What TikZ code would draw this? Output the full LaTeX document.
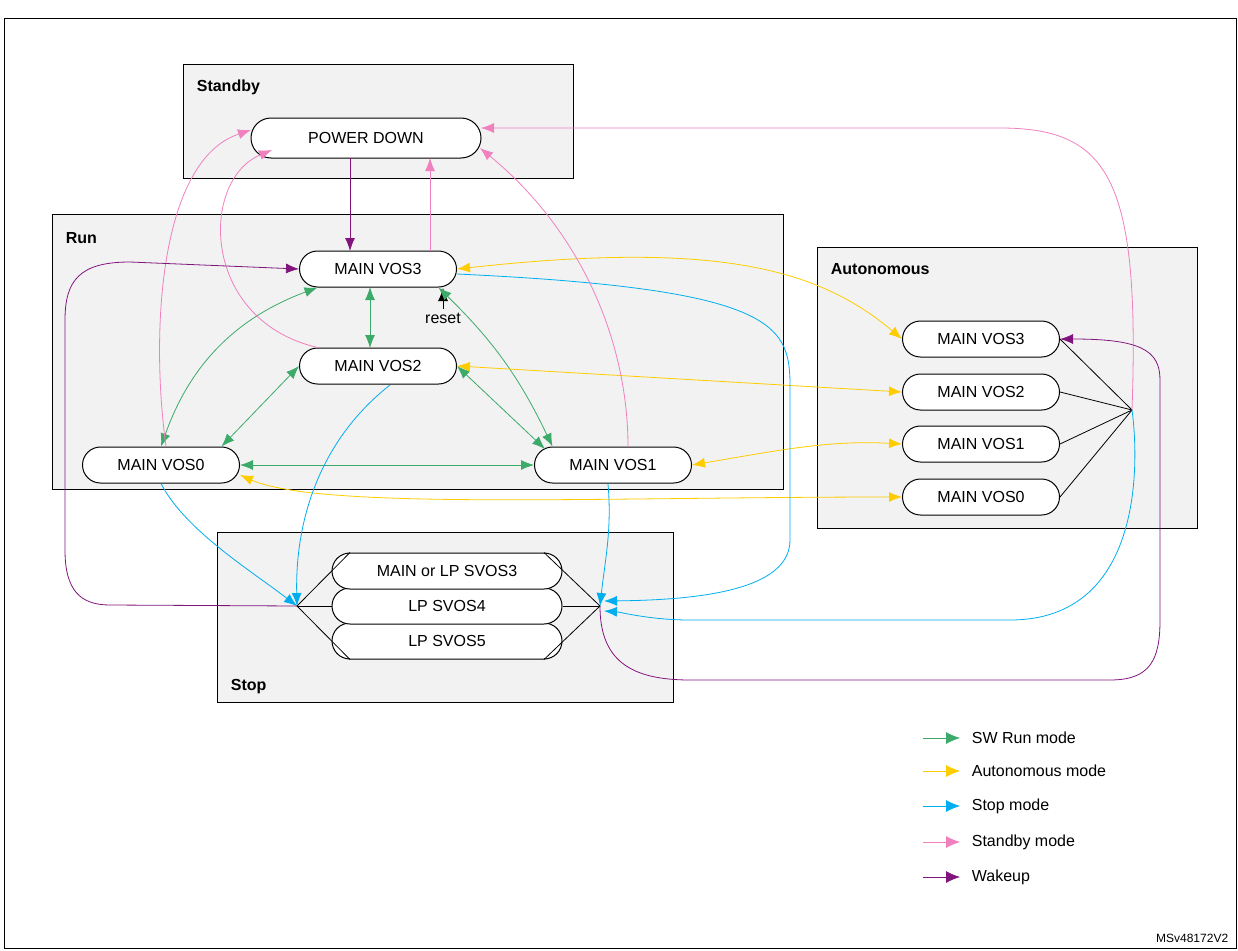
\documentclass[tikz,border=0pt]{standalone}
\usepackage{fontspec}
\setmainfont{Liberation Sans}
\usepackage{tikz}
\usetikzlibrary{arrows.meta}
\usetikzlibrary{positioning}
\usetikzlibrary{shapes.misc}
\definecolor{swgreen}{RGB}{60,170,105}
\definecolor{autoyellow}{RGB}{255,204,0}
\definecolor{stopblue}{RGB}{0,174,239}
\definecolor{sbpink}{RGB}{240,128,190}
\definecolor{wkpurple}{RGB}{130,20,125}
\definecolor{areagray}{RGB}{242,242,242}
\tikzstyle{mode} = [rounded rectangle, draw, fill=white, font=\fontsize{16}{18}\selectfont, minimum width=157pt, minimum height=36pt, inner sep=0pt]
\tikzstyle{area} = [draw, fill=areagray, thick]
\tikzstyle{title} = [anchor=west, font=\fontsize{16}{18}\selectfont\bfseries]
\tikzstyle{sw} = [draw=swgreen, thick, tip-tip]
\tikzstyle{au} = [draw=autoyellow, thick, tip-tip]
\tikzstyle{st} = [draw=stopblue, thick, -tip]
\tikzstyle{sb} = [draw=sbpink, thick, -tip]
\tikzstyle{wk} = [draw=wkpurple, thick, -tip]
\tikzstyle{hub} = [thick]

\begin{document}
\begin{tikzpicture}[x=1pt, y=-1pt, line width=1pt, tip/.tip={Latex[length=13pt,width=10pt]}]
  \useasboundingbox (0,0) rectangle (1238,950);
  \draw[thick] (4,18) rectangle (1236,948);
  % Areas
  \draw [area] (183,64) rectangle (573,178);
  \node [title] at (193,87) {Standby};
  \draw [area] (52,214) rectangle (783,489);
  \node [title] at (62,238) {Run};
  \draw [area] (817,247) rectangle (1197,528);
  \node [title] at (827,269) {Autonomous};
  \draw [area] (217,532) rectangle (673,702);
  \node [title] at (227,687) {Stop};
  % Place nodes
  \node [mode, minimum width=230pt, minimum height=40pt] (pd) at (366,138) {POWER DOWN};
  \node [mode] (r3) at (378,269) {MAIN VOS3};
  \node [mode] (r2) at (378,366) {MAIN VOS2};
  \node [mode] (r0) at (161,465) {MAIN VOS0};
  \node [mode] (r1) at (613,465) {MAIN VOS1};
  \node [mode] (a3) at (981,339) {MAIN VOS3};
  \node [mode] (a2) at (981,392) {MAIN VOS2};
  \node [mode] (a1) at (981,444) {MAIN VOS1};
  \node [mode] (a0) at (981,497) {MAIN VOS0};
  \node [mode, minimum width=230pt] (s5) at (447,641) {LP SVOS5};
  \node [mode, minimum width=230pt] (s4) at (447,606) {LP SVOS4};
  \node [mode, minimum width=230pt] (s3) at (447,571) {MAIN or LP SVOS3};
  \coordinate (hl) at (297,606);
  \coordinate (hr) at (600,606);
  \coordinate (ha) at (1132,410);
  \node [font=\fontsize{16}{18}\selectfont] (rs) at (443,318) {reset};
  % Hubs
  \draw [hub] (s3.north west) -- (hl) -- (s5.south west);
  \draw [hub] (hl) -- (s4.west);
  \draw [hub] (s3.north east) -- (hr) -- (s5.south east);
  \draw [hub] (hr) -- (s4.east);
  \foreach \n in {a3,a2,a1,a0}
    \draw [hub] (\n.east) -- (ha);
  \draw [thick, -tip] (rs.north) -- (443,288);
  % SW Run mode
  \path [sw] (r3.south west) to[bend right=25] (r0.north);
  \path [sw] (370,287) -- (370,348);
  \path [sw] (r3.south east) to[bend left=10] (r1.north west);
  \path [sw] (r2.west) -- (r0.north east);
  \path [sw] (r2.east) -- (545,449);
  \path [sw] (r0.east) -- (r1.west);
  % Autonomous mode
  \path [au] (r3.east) .. controls (720,240) and (820,270) .. (a3.west);
  \path [au] (r2.east) -- (a2.west);
  \path [au] (r1.east) .. controls (780,450) and (830,440) .. (a1.west);
  \path [au] (r0.east) ++(0,10) .. controls (320,510) and (600,497) .. (a0.west);
  % Stop mode
  \path [st] (r0.south) .. controls (185,530) and (250,570) .. (hl);
  \path [st] (390,385) .. controls (320,440) and (295,520) .. (hl);
  \path [st] (608,484) .. controls (612,530) and (605,560) .. (hr);
  \path [st] (r3.east) ++(0,5) .. controls (800,290) and (790,330) .. (790,400) -- (790,540) .. controls (790,590) and (700,600) .. (604,601);
  \path [st] (ha) .. controls (1140,470) and (1140,620) .. (1010,620) -- (690,620) .. controls (650,620) and (620,612) .. (604,611);
  % Standby mode
  \path [sb] (r0.north) ++(5,0) .. controls (150,330) and (160,160) .. (251,130);
  \path [sb] (r2.north west) .. controls (200,320) and (200,180) .. (272,150);
  \path [sb] (430,251) -- (430,158);
  \path [sb] (628,447) .. controls (628,340) and (580,230) .. (480,148);
  \path [sb] (ha) .. controls (1140,180) and (1110,128) .. (1000,128) -- (481,128);
  % Wakeup
  \path [wk] (350,158) -- (350,251);
  \path [wk] (hl) -- (110,605) .. controls (80,605) and (65,590) .. (65,550) -- (65,320) .. controls (65,280) and (80,262) .. (130,262) -- (r3.west);
  \path [wk] (hr) .. controls (600,660) and (630,680) .. (690,680) -- (1110,680) .. controls (1150,680) and (1160,660) .. (1160,620) -- (1160,380) .. controls (1160,350) and (1140,339) .. (a3.east);
  % Legend
  \foreach \col/\txt/\y in {swgreen/SW Run mode/738, autoyellow/Autonomous mode/771, stopblue/Stop mode/806, sbpink/Standby mode/842, wkpurple/Wakeup/877} {
    \draw [draw=\col, thick, -{Latex[length=14pt,width=12pt]}] (923,\y) -- (960,\y);
    \node [anchor=west, font=\fontsize{16}{18}\selectfont] at (968,\y) {\txt};
  }
  \node [anchor=east, font=\fontsize{12}{14}\selectfont] at (1232,938) {MSv48172V2};
\end{tikzpicture}
\end{document}
